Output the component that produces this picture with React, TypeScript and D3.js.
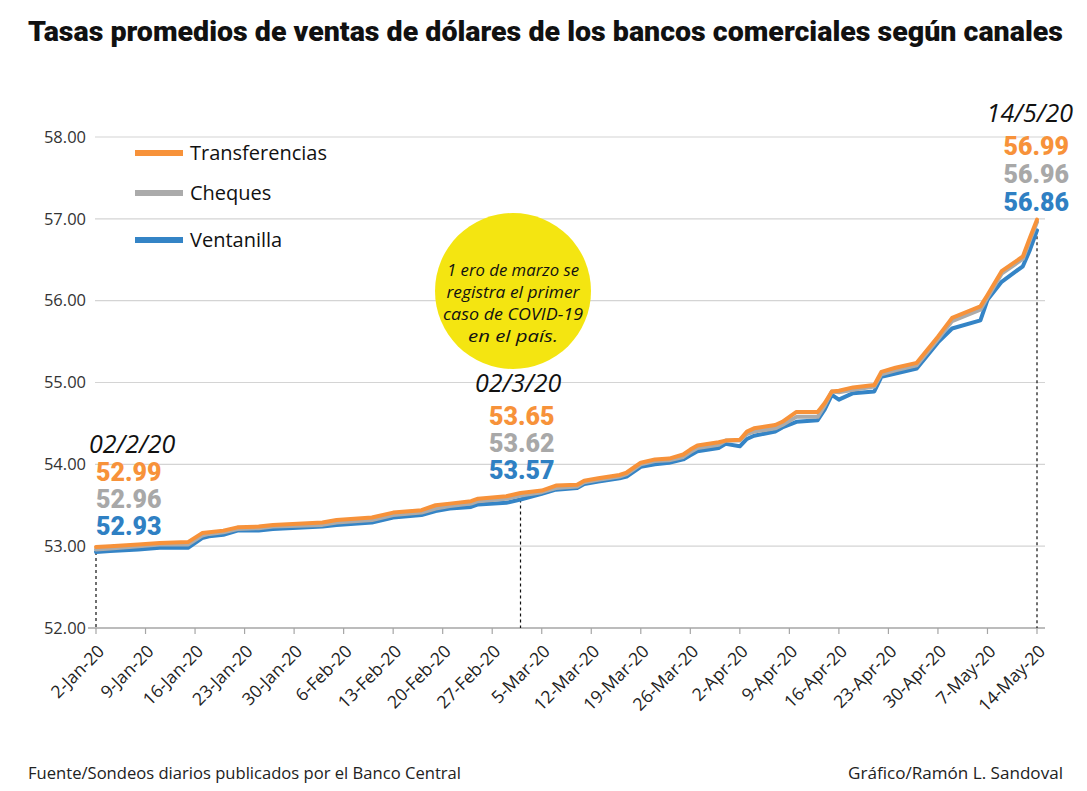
import * as d3 from 'd3';

const dates = [
  '2020-01-02', '2020-01-04', '2020-01-08', '2020-01-11', '2020-01-15', '2020-01-17', '2020-01-18',
  '2020-01-20', '2020-01-22', '2020-01-25', '2020-01-27', '2020-02-03', '2020-02-05', '2020-02-10',
  '2020-02-13', '2020-02-17', '2020-02-19', '2020-02-21', '2020-02-24', '2020-02-25', '2020-02-29',
  '2020-03-02', '2020-03-05', '2020-03-07', '2020-03-10', '2020-03-11', '2020-03-13', '2020-03-16',
  '2020-03-17', '2020-03-19', '2020-03-21', '2020-03-23', '2020-03-25', '2020-03-26', '2020-03-27',
  '2020-03-30', '2020-03-31', '2020-04-02', '2020-04-03', '2020-04-04', '2020-04-07', '2020-04-08',
  '2020-04-10', '2020-04-13', '2020-04-14', '2020-04-15', '2020-04-16', '2020-04-18', '2020-04-21',
  '2020-04-22', '2020-04-24', '2020-04-27', '2020-04-30', '2020-05-02', '2020-05-06', '2020-05-07',
  '2020-05-09', '2020-05-12', '2020-05-13', '2020-05-14',
];

const ventanilla = [
  52.93, 52.94, 52.96, 52.98, 52.98, 53.1, 53.12,
  53.14, 53.19, 53.19, 53.21, 53.24, 53.26, 53.29,
  53.35, 53.38, 53.43, 53.46, 53.48, 53.51, 53.53,
  53.57, 53.64, 53.69, 53.71, 53.76, 53.79, 53.83,
  53.85, 53.97, 54.0, 54.02, 54.06, 54.11, 54.16,
  54.2, 54.25, 54.22, 54.31, 54.35, 54.4, 54.45,
  54.52, 54.54, 54.67, 54.85, 54.79, 54.87, 54.89,
  55.07, 55.11, 55.17, 55.49, 55.66, 55.76, 56.01,
  56.23, 56.42, 56.62, 56.86,
];

const cheques = [
  52.96, 52.97, 53.0, 53.02, 53.02, 53.13, 53.15,
  53.17, 53.21, 53.22, 53.24, 53.26, 53.29, 53.32,
  53.38, 53.41, 53.46, 53.49, 53.52, 53.55, 53.58,
  53.62, 53.66, 53.71, 53.73, 53.78, 53.81, 53.85,
  53.88, 54.0, 54.04, 54.05, 54.09, 54.15, 54.2,
  54.24, 54.29, 54.29, 54.37, 54.4, 54.44, 54.48,
  54.58, 54.58, 54.72, 54.89, 54.88, 54.91, 54.95,
  55.1, 55.15, 55.21, 55.53, 55.75, 55.89, 56.04,
  56.33, 56.51, 56.74, 56.96,
];

const transferencias = [
  52.99, 53.0, 53.02, 53.04, 53.05, 53.16, 53.17,
  53.19, 53.23, 53.24, 53.26, 53.29, 53.32, 53.35,
  53.41, 53.44, 53.5, 53.52, 53.55, 53.58, 53.61,
  53.65, 53.68, 53.74, 53.75, 53.8, 53.83, 53.87,
  53.9, 54.02, 54.06, 54.07, 54.12, 54.18, 54.23,
  54.27, 54.29, 54.3, 54.4, 54.44, 54.48, 54.52,
  54.64, 54.64, 54.75, 54.89, 54.9, 54.94, 54.97,
  55.13, 55.18, 55.24, 55.56, 55.79, 55.93, 56.07,
  56.36, 56.54, 56.77, 56.99,
];

const yTicks = [52, 53, 54, 55, 56, 57, 58];

const seriesNames = ['Transferencias', 'Cheques', 'Ventanilla'];
const seriesColors = ['#F7923A', '#ABABAB', '#3484C6'];
const labelColors = ['#F7923A', '#A8A8A8', '#2F80C3'];

// fechas señaladas con su línea punteada
const callouts = [
  { label: '02/2/20', date: '2020-01-02', values: ['52.99', '52.96', '52.93'] },
  { label: '02/3/20', date: '2020-03-02', values: ['53.65', '53.62', '53.57'] },
  { label: '14/5/20', date: '2020-05-14', values: ['56.99', '56.96', '56.86'] },
];

const noteLines = ['1 ero de marzo se', 'registra el primer', 'caso de COVID-19', 'en el país.'];

const W = 1087;
const H = 791;
const parse = d3.timeParse('%Y-%m-%d');

export default function App() {
  const start = parse(dates[0]) as Date;
  const end = parse(dates[dates.length - 1]) as Date;
  const x = d3.scaleTime().domain([start, end]).range([96, 1037]);
  const y = d3.scaleLinear().domain([52, 58]).range([628, 137]);
  const plotLeft = 95;
  const plotRight = 1045;

  const xTicks = d3.timeDay.range(start, d3.timeDay.offset(end, 1), 7);
  const fmt = d3.timeFormat('%-d-%b-%y');

  const series = [transferencias, cheques, ventanilla];
  const line = d3
    .line<number>()
    .x((_, i) => x(parse(dates[i]) as Date))
    .y((d) => y(d));

  const sansFont = '"Open Sans", "Noto Sans", sans-serif';
  const boldFont = 'Roboto, "Noto Sans", sans-serif';

  const lineY = (date: string) => {
    const i = dates.indexOf(date);
    return y(ventanilla[i]);
  };

  return (
    <svg
      width={W}
      height={H}
      style={{ position: 'absolute', left: 0, top: 0, background: '#fff' }}
    >
      <text
        x={28}
        y={41}
        textLength={1035}
        lengthAdjust="spacingAndGlyphs"
        style={{ fontFamily: boldFont, fontWeight: 900, fontSize: 28 }}
        fill="#111"
      >
        Tasas promedios de ventas de dólares de los bancos comerciales según canales
      </text>

      {/* grid + y axis */}
      {yTicks.map((t) => (
        <g key={t}>
          <line
            x1={t === 52 ? 88 : plotLeft}
            x2={plotRight}
            y1={y(t)}
            y2={y(t)}
            stroke={t === 52 ? '#a6a6a6' : '#d4d4d4'}
            strokeWidth={t === 52 ? 1.5 : 1.2}
          />
          <text
            x={86}
            y={y(t)}
            dy="0.35em"
            textAnchor="end"
            style={{ fontFamily: sansFont, fontSize: 16.5 }}
            fill="#333"
          >
            {t.toFixed(2)}
          </text>
        </g>
      ))}

      {/* x axis ticks */}
      {xTicks.map((d) => (
        <g key={+d}>
          <line x1={x(d)} x2={x(d)} y1={628} y2={634} stroke="#a6a6a6" strokeWidth={1.2} />
          <text
            transform={`translate(${x(d) + 5},${648}) rotate(-45)`}
            textAnchor="end"
            dy="0.35em"
            style={{ fontFamily: sansFont, fontSize: 17.5 }}
            fill="#222"
          >
            {fmt(d)}
          </text>
        </g>
      ))}

      {/* dashed markers */}
      {callouts.map((c) => {
        const cx = x(parse(c.date) as Date);
        return (
          <line
            key={c.label}
            x1={cx}
            x2={cx}
            y1={lineY(c.date)}
            y2={628}
            stroke="#111"
            strokeWidth={1.2}
            strokeDasharray="3,3"
          />
        );
      })}

      {/* series lines, drawn blue first so orange sits on top */}
      {[2, 1, 0].map((k) => (
        <path
          key={seriesNames[k]}
          d={line(series[k]) ?? ''}
          fill="none"
          stroke={seriesColors[k]}
          strokeWidth={4}
          strokeLinejoin="round"
          strokeLinecap="round"
        />
      ))}

      {/* legend */}
      {seriesNames.map((name, i) => {
        const ly = [153, 193, 240][i];
        return (
          <g key={name}>
            <line x1={135} x2={183} y1={ly} y2={ly} stroke={seriesColors[i]} strokeWidth={6} />
            <text
              x={190}
              y={ly}
              dy="0.35em"
              style={{ fontFamily: sansFont, fontSize: 20 }}
              fill="#111"
            >
              {name}
            </text>
          </g>
        );
      })}

      {/* covid note */}
      <circle cx={513} cy={291} r={78} fill="#F4E511" />
      {noteLines.map((t, i) => (
        <text
          key={t}
          x={513}
          y={276 + i * 22}
          textAnchor="middle"
          style={{ fontFamily: sansFont, fontStyle: 'italic', fontSize: 16.5 }}
          fill="#111"
          textLength={[132, 133, 140, 90][i]}
          lengthAdjust="spacingAndGlyphs"
        >
          {t}
        </text>
      ))}

      {/* callout texts */}
      <g>
        <text x={89} y={453} style={{ fontFamily: sansFont, fontStyle: 'italic', fontSize: 25 }} fill="#111">
          {callouts[0].label}
        </text>
        {callouts[0].values.map((v, i) => (
          <text
            key={v}
            x={96}
            y={481 + i * 27}
            style={{ fontFamily: boldFont, fontWeight: 900, fontSize: 25 }}
            fill={labelColors[i]}
          >
            {v}
          </text>
        ))}
        <text x={475} y={392} style={{ fontFamily: sansFont, fontStyle: 'italic', fontSize: 25 }} fill="#111">
          {callouts[1].label}
        </text>
        {callouts[1].values.map((v, i) => (
          <text
            key={v}
            x={489}
            y={425 + i * 27}
            style={{ fontFamily: boldFont, fontWeight: 900, fontSize: 25 }}
            fill={labelColors[i]}
          >
            {v}
          </text>
        ))}
        <text
          x={1073}
          y={122}
          textAnchor="end"
          style={{ fontFamily: sansFont, fontStyle: 'italic', fontSize: 25 }}
          fill="#111"
        >
          {callouts[2].label}
        </text>
        {callouts[2].values.map((v, i) => (
          <text
            key={v}
            x={1069}
            y={155 + i * 28}
            textAnchor="end"
            style={{ fontFamily: boldFont, fontWeight: 900, fontSize: 25 }}
            fill={labelColors[i]}
          >
            {v}
          </text>
        ))}
      </g>

      {/* footer */}
      <text
        x={28}
        y={779}
        textLength={433}
        lengthAdjust="spacingAndGlyphs"
        style={{ fontFamily: sansFont, fontSize: 16.5 }}
        fill="#222"
      >
        Fuente/Sondeos diarios publicados por el Banco Central
      </text>
      <text
        x={848}
        y={779}
        textLength={215}
        lengthAdjust="spacingAndGlyphs"
        style={{ fontFamily: sansFont, fontSize: 16.5 }}
        fill="#222"
      >
        Gráfico/Ramón L. Sandoval
      </text>
    </svg>
  );
}
